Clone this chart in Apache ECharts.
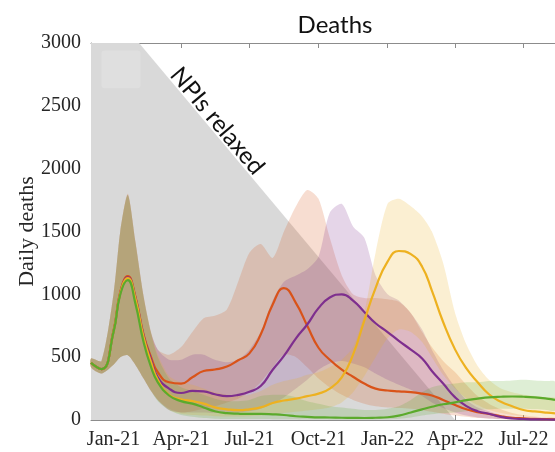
<!DOCTYPE html>
<html>
<head>
<meta charset="utf-8">
<script src="https://cdn.jsdelivr.net/npm/echarts@6/dist/echarts.min.js"></script>
<style>html,body{margin:0;padding:0;background:#fff}#c{width:555px;height:452px}</style>
</head>
<body>
<div id="c"></div>
<script>
// ---- data ----
const dates = ['2020-12-02','2020-12-16','2021-01-01','2021-01-10','2021-01-20','2021-01-30','2021-02-10','2021-02-20','2021-03-01','2021-03-16','2021-04-01','2021-04-16','2021-05-01','2021-05-16','2021-06-01','2021-06-16','2021-07-01','2021-07-16','2021-08-01','2021-08-16','2021-09-01','2021-09-16','2021-10-01','2021-10-16','2021-11-01','2021-11-16','2021-12-01','2021-12-16','2022-01-01','2022-01-16','2022-02-01','2022-02-16','2022-03-01','2022-03-16','2022-04-01','2022-04-16','2022-05-01','2022-05-16','2022-06-01','2022-06-16','2022-07-01','2022-07-16','2022-08-01','2022-08-12'];

const orangeMean = [455,405,710,1020,1145,985,680,500,380,300,290,340,390,402,425,475,530,680,920,1050,930,750,575,480,400,344,290,250,235,228,222,210,195,160,119,85,62,48,30,18,13,9,7,6];
const orangeHigh = [490,470,1000,1500,1800,1430,990,700,560,520,580,700,810,830,880,1100,1330,1400,1290,1500,1700,1830,1760,1450,1150,1000,970,970,960,940,850,700,580,470,380,280,190,130,85,55,38,28,22,18];
const orangeLow  = [420,370,440,500,515,440,330,230,160,90,60,70,90,110,140,170,220,300,420,520,500,420,330,260,200,160,130,110,100,95,90,80,65,50,35,25,15,10,6,4,3,2,2,2];

const purpleMean = [455,405,705,1010,1135,978,670,480,340,250,215,232,228,205,190,200,225,270,400,510,650,760,890,975,1000,950,860,770,700,630,560,490,390,290,180,110,70,50,25,12,8,5,4,3];
const purpleHigh = [490,470,1000,1500,1790,1420,980,690,560,480,480,520,520,480,460,480,560,700,950,1100,1150,1200,1300,1650,1720,1540,1450,1150,1000,950,850,720,560,400,260,160,100,70,40,25,18,12,10,8];
const purpleLow  = [420,370,440,500,515,440,330,230,160,80,60,60,60,55,55,60,70,90,130,180,250,320,400,450,470,450,420,370,320,280,240,190,140,95,60,35,20,12,7,4,3,2,2,2];

const yellowMean = [455,405,705,1010,1130,970,660,460,320,200,165,150,130,100,85,78,85,100,135,155,170,190,210,250,340,520,790,1050,1260,1345,1320,1220,1030,780,560,410,300,205,145,110,80,68,58,53];
const yellowHigh = [490,470,1000,1500,1790,1420,980,690,520,350,300,280,250,220,200,190,200,230,280,310,330,360,380,420,480,580,850,1330,1720,1760,1700,1620,1500,1250,850,600,430,320,250,220,200,190,180,175];
const yellowLow  = [420,370,440,500,515,440,330,230,160,80,50,40,35,30,28,28,30,35,45,55,65,75,85,100,140,220,350,500,650,720,700,620,500,360,250,170,120,80,55,40,30,25,22,20];

const greenMean = [455,405,700,1000,1113,930,620,420,300,195,150,130,100,70,55,50,48,48,45,40,30,25,21,20,18,17,16,18,22,35,60,85,105,125,140,158,170,180,185,187,185,180,170,160];
const greenHigh = [490,470,1000,1500,1790,1420,980,690,500,330,260,230,200,170,150,150,160,190,200,200,180,150,130,110,100,90,80,80,90,110,160,220,260,280,290,300,300,310,310,315,320,315,310,305];
const greenLow  = [420,370,440,500,515,440,330,230,150,80,40,25,15,10,8,8,7,7,6,6,5,5,5,4,4,4,4,4,5,10,20,35,45,55,60,70,80,85,90,90,90,85,80,75];

// "NPIs relaxed" shaded region outline
const npiDates = ['2020-12-02','2021-02-04','2022-04-01'];
const npiValues = [3000, 3000, 0];

const tickDates = ['2021-01-01','2021-04-01','2021-07-01','2021-10-01','2022-01-01','2022-04-01','2022-07-01'];
const tickLabels = ['Jan-21','Apr-21','Jul-21','Oct-21','Jan-22','Apr-22','Jul-22'];

// ---- build ----
function ts(s){const p=s.split('-').map(Number);return Date.UTC(p[0],p[1]-1,p[2]);}
const X = dates.map(ts);
const tickTs = tickDates.map(ts);
const pairs = arr => arr.map((v,i)=>[X[i], v]);

const groups = [
  {name:'orange', color:'#D95319', mean:orangeMean, high:orangeHigh, low:orangeLow},
  {name:'purple', color:'#7E2F8E', mean:purpleMean, high:purpleHigh, low:purpleLow},
  {name:'yellow', color:'#EDB120', mean:yellowMean, high:yellowHigh, low:yellowLow},
  {name:'green',  color:'#5BAA2C', mean:greenMean,  high:greenHigh,  low:greenLow}
];
function rgba(hex,a){const n=parseInt(hex.slice(1),16);return 'rgba('+(n>>16&255)+','+(n>>8&255)+','+(n&255)+','+a+')';}

const series = [];
series.push({
  type:'line', name:'npi', data: npiDates.map((d,i)=>[ts(d), npiValues[i]]),
  symbol:'none', lineStyle:{width:0, opacity:0}, areaStyle:{color:'#d9d9d9', opacity:1},
  z:1, silent:true, animation:false
});
groups.forEach(g=>{
  const items = X.map((x,i)=>[x, g.low[i], g.high[i]]);
  const fill = rgba(g.color, 0.2);
  series.push({
    type:'custom', data:items, encode:{x:0, y:[1,2]}, z:2, silent:true, animation:false,
    renderItem:(params, api)=>{
      if (params.dataIndex !== 0) return null;
      const up = items.map(d=>api.coord([d[0], d[2]]));
      const lo = items.map(d=>api.coord([d[0], d[1]])).reverse();
      return {type:'polygon', shape:{points:up.concat(lo), smooth:0.25},
        style:{fill:fill, stroke:null, lineWidth:0}};
    }
  });
});
groups.forEach(g=>{
  series.push({type:'line', data:pairs(g.mean), symbol:'none', smooth:0.5,
    lineStyle:{color:g.color, width:2.2}, z:3, silent:true, animation:false});
});

const axisGray = '#8c8c8c';
const serif = '"Liberation Serif","Times New Roman",serif';
const labelFor = v => { let best=0, bd=Infinity; tickTs.forEach((t,i)=>{const d=Math.abs(t-v); if(d<bd){bd=d;best=i;}}); return tickLabels[best]; };

const chart = echarts.init(document.getElementById('c'), null, {renderer:'canvas'});
const xMin = ts('2020-12-02'), xMax = ts('2022-08-12');
chart.setOption({
  animation:false,
  backgroundColor:'#fff',
  title:{text:'Deaths', left:330, top:8, textAlign:'center',
    textStyle:{fontFamily:'Lato, "Open Sans", sans-serif', fontSize:24, fontWeight:'normal', color:'#111'}},
  grid:{left:91, right:0, top:43, bottom:32, containLabel:false},
  xAxis:[{
    type:'value', min:xMin, max:xMax, position:'bottom', scale:true,
    axisLine:{show:true, lineStyle:{color:axisGray, width:1}},
    axisTick:{show:true, inside:true, length:5, customValues:tickTs, lineStyle:{color:axisGray}},
    axisLabel:{show:true, customValues:tickTs, formatter:v=>labelFor(v), margin:10,
      fontFamily:serif, fontSize:20, color:'#262626', hideOverlap:false},
    splitLine:{show:false}
  },{
    type:'value', min:xMin, max:xMax, position:'top', scale:true,
    axisLine:{show:true, lineStyle:{color:axisGray, width:1}},
    axisTick:{show:true, inside:true, length:5, customValues:tickTs, lineStyle:{color:axisGray}},
    axisLabel:{show:false}, splitLine:{show:false}
  }],
  yAxis:{
    type:'value', min:0, max:3000, interval:500,
    name:'Daily deaths', nameLocation:'middle', nameGap:53, nameMoveOverlap:false,
    nameTextStyle:{fontFamily:serif, fontSize:22, color:'#262626'},
    axisLine:{show:true, lineStyle:{color:axisGray, width:1}},
    axisTick:{show:true, inside:true, length:5, lineStyle:{color:axisGray}},
    axisLabel:{margin:10, fontFamily:serif, fontSize:20, color:'#262626', formatter:v=>String(v)},
    splitLine:{show:false}
  },
  series:series
});

// annotation placed through the chart's own scales
const anchor = chart.convertToPixel({xAxisIndex:0, yAxisIndex:0}, [ts('2021-05-19'), 2380]);
const sq0 = chart.convertToPixel({xAxisIndex:0, yAxisIndex:0}, [ts('2020-12-16'), 2940]);
const sq1 = chart.convertToPixel({xAxisIndex:0, yAxisIndex:0}, [ts('2021-02-06'), 2640]);
chart.setOption({
  graphic:[
    {type:'rect', z:5, silent:true,
      shape:{x:sq0[0], y:sq0[1], width:sq1[0]-sq0[0], height:sq1[1]-sq0[1], r:3},
      style:{fill:'rgba(255,255,255,0.16)'}},
    {type:'text', z:10, silent:true, x:anchor[0], y:anchor[1], rotation:-50*Math.PI/180,
      style:{text:'NPIs relaxed', font:'24px Lato, "Open Sans", sans-serif', fill:'#111',
        textAlign:'center', textVerticalAlign:'middle'}}
  ]
});
</script>
</body>
</html>
